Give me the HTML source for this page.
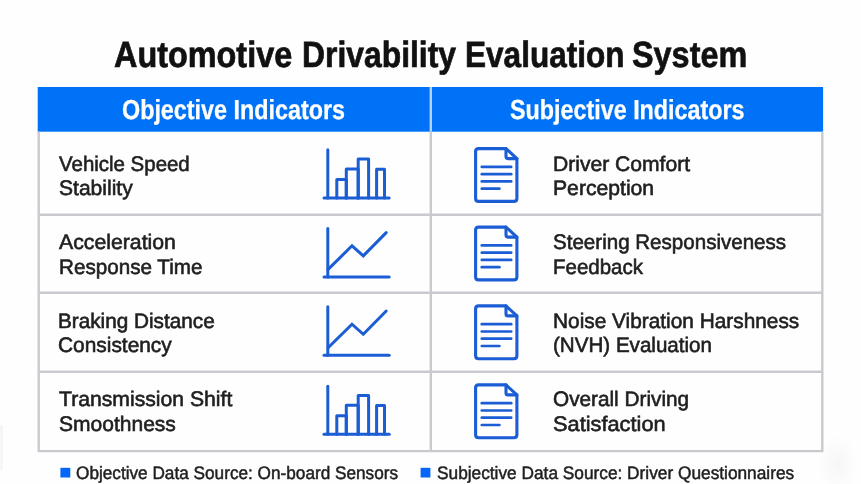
<!DOCTYPE html>
<html lang="en">
<head>
<meta charset="utf-8">
<title>Automotive Drivability Evaluation System</title>
<style>
html,body{margin:0;padding:0}
body{width:861px;height:484px;position:relative;overflow:hidden;background:#fefefe;font-family:"Liberation Sans",Arial,sans-serif}
.t{position:absolute;white-space:nowrap;transform-origin:0 0;display:block;text-rendering:geometricPrecision}
.cell{-webkit-text-stroke:0.6px #1f1f1f}
.foot{-webkit-text-stroke:0.5px #1f1f1f}
.title{-webkit-text-stroke:0.7px #111111}
.hdr{-webkit-text-stroke:0.3px #ffffff}
svg{position:absolute;left:0;top:0}
h1,main,footer,div{margin:0;padding:0;font-size:inherit;font-weight:inherit;display:block}
</style>
</head>
<body>
<svg width="861" height="484" viewBox="0 0 861 484">
<defs><radialGradient id="hz"><stop offset="0" stop-color="#8a8f9c" stop-opacity="0.07"/><stop offset="1" stop-color="#8a8f9c" stop-opacity="0"/></radialGradient></defs>
<ellipse cx="838" cy="464" rx="20" ry="30" fill="url(#hz)"/>
<rect x="0" y="425" width="3" height="45" fill="#f5f6f8"/>
<rect x="37.7" y="87" width="785.4" height="44.7" fill="#0072f7"/>
<rect x="429.6" y="87" width="2.4" height="44.7" fill="#b3d3fc"/>
<g fill="none" stroke="#c9cad0" stroke-width="2.4">
<path d="M38.7 131.7 V451.1 H822.3 V131.7"/>
<path d="M430.8 131.7 V451.1"/>
<path d="M38.7 214.8 H822.3"/>
<path d="M38.7 292.7 H822.3"/>
<path d="M38.7 371.7 H822.3"/>
</g>
<rect x="60.4" y="467.8" width="9.9" height="9.7" fill="#0566fa"/>
<rect x="420.6" y="467.8" width="9.8" height="9.7" fill="#0566fa"/>
<g fill="none" stroke="#1b5dd5" stroke-width="3.0" stroke-linecap="round" stroke-linejoin="round"><path d="M327.8 149.8 V197.9"/><path d="M324 197.9 H389.2"/><path d="M336.8 197.9 V179.4 H346.3 V197.9"/><path d="M346.3 197.9 V168.9 H358.2 V197.9"/><path d="M358.2 197.9 V159.0 H368.6 V197.9"/><path d="M376.6 197.9 V169.2 H384.5 V197.9"/></g><g fill="none" stroke="#1b5dd5" stroke-width="3.0" stroke-linecap="round" stroke-linejoin="miter"><path d="M327.8 228.4 V276.9"/><path d="M324 276.9 H389.2"/><path d="M328.1 269.4 L352 245.8 L363.3 255.9 L386.2 232.6"/></g><g fill="none" stroke="#1b5dd5" stroke-width="3.0" stroke-linecap="round" stroke-linejoin="miter"><path d="M327.8 306.8 V355.3"/><path d="M324 355.3 H389.2"/><path d="M328.1 347.8 L352 324.2 L363.3 334.3 L386.2 311.0"/></g><g fill="none" stroke="#1b5dd5" stroke-width="3.0" stroke-linecap="round" stroke-linejoin="round"><path d="M327.8 386.2 V434.3"/><path d="M324 434.3 H389.2"/><path d="M336.8 434.3 V415.8 H346.3 V434.3"/><path d="M346.3 434.3 V405.3 H358.2 V434.3"/><path d="M358.2 434.3 V395.4 H368.6 V434.3"/><path d="M376.6 434.3 V405.6 H384.5 V434.3"/></g><g fill="none" stroke="#1b5dd5" stroke-width="3.1" stroke-linecap="round" stroke-linejoin="round"><path d="M478.6 148.6 H506.0 L516.9 158.6 V198.4 Q516.9 201.4 513.9 201.4 H478.6 Q475.6 201.4 475.6 198.4 V151.6 Q475.6 148.6 478.6 148.6 Z"/><path d="M506.0 148.6 V156.6 Q506.0 158.6 508.0 158.6 H516.9"/></g><g fill="none" stroke="#1b5dd5" stroke-width="2.7" stroke-linecap="round"><path d="M481.8 166.9 H511.2"/><path d="M481.8 174.2 H511.2"/><path d="M481.8 181.4 H511.2"/><path d="M481.8 188.7 H499.4"/></g><g fill="none" stroke="#1b5dd5" stroke-width="3.1" stroke-linecap="round" stroke-linejoin="round"><path d="M478.6 227.1 H506.0 L516.9 237.1 V276.9 Q516.9 279.9 513.9 279.9 H478.6 Q475.6 279.9 475.6 276.9 V230.1 Q475.6 227.1 478.6 227.1 Z"/><path d="M506.0 227.1 V235.1 Q506.0 237.1 508.0 237.1 H516.9"/></g><g fill="none" stroke="#1b5dd5" stroke-width="2.7" stroke-linecap="round"><path d="M481.8 245.4 H511.2"/><path d="M481.8 252.7 H511.2"/><path d="M481.8 259.9 H511.2"/><path d="M481.8 267.2 H499.4"/></g><g fill="none" stroke="#1b5dd5" stroke-width="3.1" stroke-linecap="round" stroke-linejoin="round"><path d="M478.6 305.9 H506.0 L516.9 315.9 V355.7 Q516.9 358.7 513.9 358.7 H478.6 Q475.6 358.7 475.6 355.7 V308.9 Q475.6 305.9 478.6 305.9 Z"/><path d="M506.0 305.9 V313.9 Q506.0 315.9 508.0 315.9 H516.9"/></g><g fill="none" stroke="#1b5dd5" stroke-width="2.7" stroke-linecap="round"><path d="M481.8 324.2 H511.2"/><path d="M481.8 331.5 H511.2"/><path d="M481.8 338.7 H511.2"/><path d="M481.8 346.0 H499.4"/></g><g fill="none" stroke="#1b5dd5" stroke-width="3.1" stroke-linecap="round" stroke-linejoin="round"><path d="M478.6 384.9 H506.0 L516.9 394.9 V434.7 Q516.9 437.7 513.9 437.7 H478.6 Q475.6 437.7 475.6 434.7 V387.9 Q475.6 384.9 478.6 384.9 Z"/><path d="M506.0 384.9 V392.9 Q506.0 394.9 508.0 394.9 H516.9"/></g><g fill="none" stroke="#1b5dd5" stroke-width="2.7" stroke-linecap="round"><path d="M481.8 403.2 H511.2"/><path d="M481.8 410.5 H511.2"/><path d="M481.8 417.7 H511.2"/><path d="M481.8 425.0 H499.4"/></g>
</svg>
<h1>
<span class="t title" style="left:114.39px;top:37.00px;font-size:36.4px;line-height:36.4px;transform:scaleX(0.8902);color:#111111;font-weight:bold">Automotive</span>
<span class="t title" style="left:301.69px;top:37.00px;font-size:36.4px;line-height:36.4px;transform:scaleX(0.8756);color:#111111;font-weight:bold">Drivability</span>
<span class="t title" style="left:464.90px;top:37.00px;font-size:36.4px;line-height:36.4px;transform:scaleX(0.8673);color:#111111;font-weight:bold">Evaluation</span>
<span class="t title" style="left:632.07px;top:37.00px;font-size:36.4px;line-height:36.4px;transform:scaleX(0.8901);color:#111111;font-weight:bold">System</span>
</h1>
<main>
<div class="thead">
<span class="t hdr" style="left:122.18px;top:96.00px;font-size:27.5px;line-height:27.5px;transform:scaleX(0.8482);color:#ffffff;font-weight:bold">Objective Indicators</span>
<span class="t hdr" style="left:510.15px;top:96.00px;font-size:27.5px;line-height:27.5px;transform:scaleX(0.8481);color:#ffffff;font-weight:bold">Subjective Indicators</span>
</div>
<div class="tbody">
<span class="t cell" style="left:58.75px;top:154.00px;font-size:21px;line-height:21px;transform:scaleX(0.9737);color:#1f1f1f;font-weight:normal">Vehicle Speed</span>
<span class="t cell" style="left:58.67px;top:178.00px;font-size:21px;line-height:21px;transform:scaleX(1.0029);color:#1f1f1f;font-weight:normal">Stability</span>
<span class="t cell" style="left:58.60px;top:232.00px;font-size:21px;line-height:21px;transform:scaleX(1.0119);color:#1f1f1f;font-weight:normal">Acceleration</span>
<span class="t cell" style="left:59.16px;top:257.00px;font-size:21px;line-height:21px;transform:scaleX(0.9827);color:#1f1f1f;font-weight:normal">Response Time</span>
<span class="t cell" style="left:58.31px;top:311.00px;font-size:21px;line-height:21px;transform:scaleX(0.9869);color:#1f1f1f;font-weight:normal">Braking Distance</span>
<span class="t cell" style="left:58.39px;top:335.00px;font-size:21px;line-height:21px;transform:scaleX(0.9944);color:#1f1f1f;font-weight:normal">Consistency</span>
<span class="t cell" style="left:58.78px;top:389.00px;font-size:21px;line-height:21px;transform:scaleX(1.0081);color:#1f1f1f;font-weight:normal">Transmission Shift</span>
<span class="t cell" style="left:58.52px;top:414.00px;font-size:21px;line-height:21px;transform:scaleX(1.0013);color:#1f1f1f;font-weight:normal">Smoothness</span>
<span class="t cell" style="left:553.12px;top:154.00px;font-size:21px;line-height:21px;transform:scaleX(1.0041);color:#1f1f1f;font-weight:normal">Driver Comfort</span>
<span class="t cell" style="left:553.06px;top:178.00px;font-size:21px;line-height:21px;transform:scaleX(1.0074);color:#1f1f1f;font-weight:normal">Perception</span>
<span class="t cell" style="left:553.25px;top:232.00px;font-size:21px;line-height:21px;transform:scaleX(0.9789);color:#1f1f1f;font-weight:normal">Steering Responsiveness</span>
<span class="t cell" style="left:553.37px;top:257.00px;font-size:21px;line-height:21px;transform:scaleX(0.9748);color:#1f1f1f;font-weight:normal">Feedback</span>
<span class="t cell" style="left:553.31px;top:311.00px;font-size:21px;line-height:21px;transform:scaleX(0.9920);color:#1f1f1f;font-weight:normal">Noise Vibration Harshness</span>
<span class="t cell" style="left:553.07px;top:335.00px;font-size:21px;line-height:21px;transform:scaleX(0.9801);color:#1f1f1f;font-weight:normal">(NVH) Evaluation</span>
<span class="t cell" style="left:553.36px;top:389.00px;font-size:21px;line-height:21px;transform:scaleX(0.9882);color:#1f1f1f;font-weight:normal">Overall Driving</span>
<span class="t cell" style="left:553.44px;top:414.00px;font-size:21px;line-height:21px;transform:scaleX(1.0376);color:#1f1f1f;font-weight:normal">Satisfaction</span>
</div>
</main>
<footer>
<span class="t foot" style="left:76.45px;top:464.00px;font-size:18px;line-height:18px;transform:scaleX(0.9553);color:#1f1f1f;font-weight:normal">Objective Data Source: On-board Sensors</span>
<span class="t foot" style="left:436.55px;top:464.00px;font-size:18px;line-height:18px;transform:scaleX(0.9597);color:#1f1f1f;font-weight:normal">Subjective Data Source: Driver Questionnaires</span>
</footer>
</body>
</html>
